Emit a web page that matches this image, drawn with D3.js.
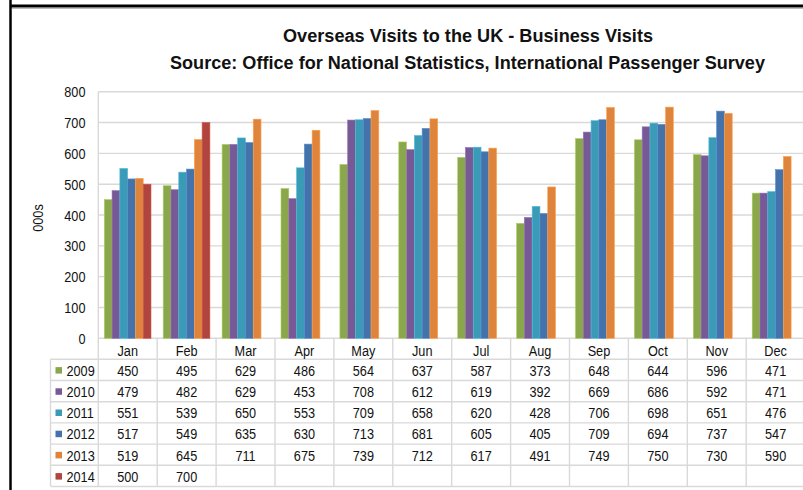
<!DOCTYPE html>
<html>
<head>
<meta charset="utf-8">
<script src="https://cdn.jsdelivr.net/npm/d3@7"></script>
<style>
  html, body { margin: 0; padding: 0; background: #fff; }
  svg { display: block; font-family: "Liberation Sans", Arial, sans-serif; }
</style>
</head>
<body>
<svg id="chart" width="803" height="490"></svg>
<script>
// Overseas business visits to the UK, thousands per month
const months = ["Jan","Feb","Mar","Apr","May","Jun","Jul","Aug","Sep","Oct","Nov","Dec"];
const years = ["2009","2010","2011","2012","2013","2014"];
const v2009 = [450,495,629,486,564,637,587,373,648,644,596,471];
const v2010 = [479,482,629,453,708,612,619,392,669,686,592,471];
const v2011 = [551,539,650,553,709,658,620,428,706,698,651,476];
const v2012 = [517,549,635,630,713,681,605,405,709,694,737,547];
const v2013 = [519,645,711,675,739,712,617,491,749,750,730,590];
const v2014 = [500,700];
const yTicks = [0,100,200,300,400,500,600,700,800];
const colors = ["#8aa84b","#775a95","#3b9ab5","#4472aa","#de843c","#b0443f"];

const seriesValues = [v2009, v2010, v2011, v2012, v2013, v2014];
const series = years.map((y, i) => ({ year: y, color: colors[i], values: seriesValues[i] }));

const svg = d3.select("#chart");
const W = 803, H = 490;
const SX = 0.82; // condensed glyph width

// text helper: horizontally condensed label anchored at (x, y)
function label(g, x, y, txt, opts = {}) {
  return g.append("text")
    .attr("transform", `translate(${x},${y}) scale(${opts.sx || SX},1)`)
    .attr("text-anchor", opts.anchor || "middle")
    .attr("font-size", opts.size || 15.5)
    .attr("font-weight", opts.weight || "normal")
    .attr("fill", opts.fill || "#111")
    .text(txt);
}

// outer frame
svg.append("line").attr("x1", 10).attr("x2", W).attr("y1", 6).attr("y2", 6)
  .attr("stroke", "#000").attr("stroke-width", 3);
svg.append("line").attr("x1", 10.5).attr("x2", 10.5).attr("y1", 0).attr("y2", H)
  .attr("stroke", "#000").attr("stroke-width", 2.5);
svg.append("line").attr("x1", 12).attr("x2", W).attr("y1", 8.5).attr("y2", 8.5)
  .attr("stroke", "#bbb").attr("stroke-width", 1);

// titles
svg.append("text").attr("x", 283).attr("y", 41.5)
  .attr("font-size", 17.5).attr("font-weight", "bold").attr("fill", "#111")
  .attr("textLength", 370).attr("lengthAdjust", "spacingAndGlyphs")
  .text("Overseas Visits to the UK - Business Visits");
svg.append("text").attr("x", 170).attr("y", 69)
  .attr("font-size", 17.5).attr("font-weight", "bold").attr("fill", "#111")
  .attr("textLength", 595).attr("lengthAdjust", "spacingAndGlyphs")
  .text("Source: Office for National Statistics, International Passenger Survey");

// scales
const left = 98.3, step = 58.9;
const x = d3.scaleBand().domain(months).range([left, left + step * months.length]).padding(0);
const xi = d3.scaleBand().domain(years).range([6, 52.7]).padding(0);
const y = d3.scaleLinear().domain([0, 800]).range([338.3, 91.7]);

const gridColor = "#d9d9d9";

// gridlines
svg.append("g").selectAll("line").data(yTicks).join("line")
  .attr("x1", left).attr("x2", W)
  .attr("y1", d => y(d)).attr("y2", d => y(d))
  .attr("stroke", gridColor).attr("stroke-width", 1.4);

// y axis tick labels
const yAxisG = svg.append("g");
yTicks.forEach(t => label(yAxisG, 85.5, y(t) + 5.5, String(t), { anchor: "end" }));

// y axis title
svg.append("text")
  .attr("transform", `translate(43,218) rotate(-90) scale(${SX},1)`)
  .attr("text-anchor", "middle").attr("font-size", 15.5).attr("fill", "#111")
  .text("000s");

// bars
const barsG = svg.append("g");
series.forEach(s => {
  barsG.append("g").selectAll("rect")
    .data(s.values.map((v, i) => ({ month: months[i], value: v })))
    .join("rect")
    .attr("x", d => x(d.month) + xi(s.year))
    .attr("width", xi.bandwidth())
    .attr("y", d => y(d.value))
    .attr("height", d => y(0) - y(d.value))
    .attr("fill", s.color)
    .attr("stroke", d3.color(s.color).brighter(0.6))
    .attr("stroke-width", 0.6);
});

// data table
const headTop = 338.3, headBottom = 359.3, rowH = 21.2;
const tableBottom = headBottom + rowH * years.length;
const legendLeft = 50.5;
const tableG = svg.append("g");
const lineStyle = sel => sel.attr("stroke", gridColor).attr("stroke-width", 1.4);

// vertical column separators
tableG.selectAll("line.v").data(d3.range(months.length + 1)).join("line")
  .attr("class", "v")
  .attr("x1", i => left + i * step).attr("x2", i => left + i * step)
  .attr("y1", headTop).attr("y2", tableBottom)
  .call(lineStyle);
// plot left edge
tableG.append("line").attr("x1", left).attr("x2", left).attr("y1", y(800)).attr("y2", headTop).call(lineStyle);
// legend column left edge
tableG.append("line").attr("x1", legendLeft).attr("x2", legendLeft).attr("y1", headBottom).attr("y2", tableBottom).call(lineStyle);
// horizontal row lines
tableG.selectAll("line.h").data(d3.range(years.length + 1)).join("line")
  .attr("class", "h")
  .attr("x1", legendLeft).attr("x2", W)
  .attr("y1", i => headBottom + i * rowH).attr("y2", i => headBottom + i * rowH)
  .call(lineStyle);

// month headers
months.forEach(m => label(tableG, x(m) + step / 2, 356, m));

// rows
series.forEach((s, r) => {
  const base = headBottom + r * rowH + 16.5;
  tableG.append("rect")
    .attr("x", 55.5).attr("y", headBottom + r * rowH + 7.8)
    .attr("width", 6.5).attr("height", 6.5).attr("fill", s.color);
  label(tableG, 66.5, base, s.year, { anchor: "start" });
  s.values.forEach((v, i) => label(tableG, x(months[i]) + step / 2, base, String(v)));
});
</script>
</body>
</html>
